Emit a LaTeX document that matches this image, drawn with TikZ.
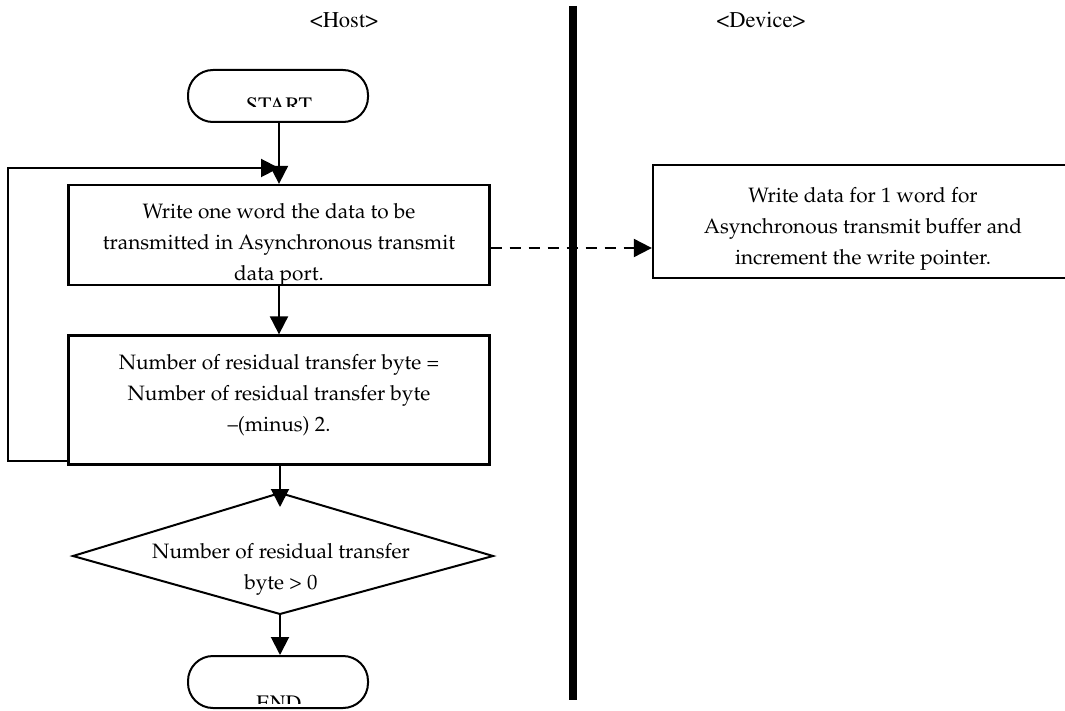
\documentclass[tikz,border=0pt]{standalone}
\usepackage[T1]{fontenc}
\renewcommand\rmdefault{ppl}
\usetikzlibrary{arrows.meta}
\newcommand\bodysize{\fontsize{20.8}{31}\selectfont}
\newcommand\timesface{\fontfamily{ptm}\selectfont}
\tikzset{
  flow/.style={line width=2pt},
  tip/.style={-{Triangle[length=18pt,width=18pt]}},
  procbox/.style={draw, line width=2.3pt, rectangle, inner sep=0pt},
  boxtext/.style={font=\bodysize, align=center, inner sep=0pt},
  termbox/.style={draw, line width=2pt, rectangle, rounded corners=25pt, inner sep=0pt,
    minimum width=180pt, minimum height=52pt},
  lane/.style={font=\timesface\fontsize{22.5}{25}\selectfont, inner sep=0pt},
  termtext/.style={font=\timesface\fontsize{22}{24}\selectfont, anchor=base, inner sep=0pt},
}
\begin{document}
\begin{tikzpicture}[x=1pt, y=-1pt]
\useasboundingbox (0,0) rectangle (1065,711);

% swim-lane titles and divider
\node[lane] (host) at (344,20) {<Host>};
\node[lane] (device) at (761,20) {<Device>};
\draw[line width=8pt] (573,6) coordinate (barTop) -- (573,700) coordinate (barBot);

% terminals (their labels are cut off by the box bottom)
\node[termbox] (start) at (278,96) {};
\node[termbox] (end) at (278,682) {};
\begin{scope}
  \clip (150,60) rectangle (400,107);
  \node[termtext] (startlbl) at (279,113) {START};
\end{scope}
\begin{scope}
  \clip (150,660) rectangle (400,703);
  \node[termtext] (endlbl) at (279,710) {END};
\end{scope}

% process boxes
\node[procbox, minimum width=421pt, minimum height=100pt] (write) at (279,235) {};
\node[boxtext] (writelbl) at (279,245)
  {Write one word the data to be\\transmitted in Asynchronous transmit\\data port.};
\node[procbox, minimum width=421pt, minimum height=129pt] (count) at (279,400) {};
\node[boxtext] (countlbl) at (279,395)
  {Number of residual transfer byte =\\Number of residual transfer byte\\--(minus) 2.};
\node[procbox, minimum width=420pt, minimum height=113pt] (dev) at (863,221.5) {};
\node[boxtext] (devlbl) at (863,229)
  {Write data for 1 word for\\Asynchronous transmit buffer and\\increment the write pointer.};

% decision
\coordinate (dN) at (280,493);
\coordinate (dE) at (493,556);
\coordinate (dS) at (280,614);
\coordinate (dW) at (73,556);
\draw[line width=2pt] (dN) -- (dE) -- (dS) -- (dW) -- cycle;
\node[boxtext] (test) at (281,569)
  {Number of residual transfer\\byte > 0};

% connectors
\coordinate (loopIn) at (279,168);
\draw[flow, tip] (start.south -| 279,0) -- (write.north -| 279,0);
\draw[flow, tip] (count.west |- 0,461) -- (8,461) -- (8,168) -- (loopIn);
\draw[flow, tip] (write.south -| 279,0) -- (count.north -| 279,0);
\draw[flow, tip, shorten >=-14pt] (count.south -| 280,0) -- (dN);
\draw[flow, tip] (dS) -- (end.north -| 280,0);
\draw[flow, tip, dash pattern=on 11pt off 8pt] (write.east |- 0,248) -- (dev.west |- 0,248);
\end{tikzpicture}
\end{document}
